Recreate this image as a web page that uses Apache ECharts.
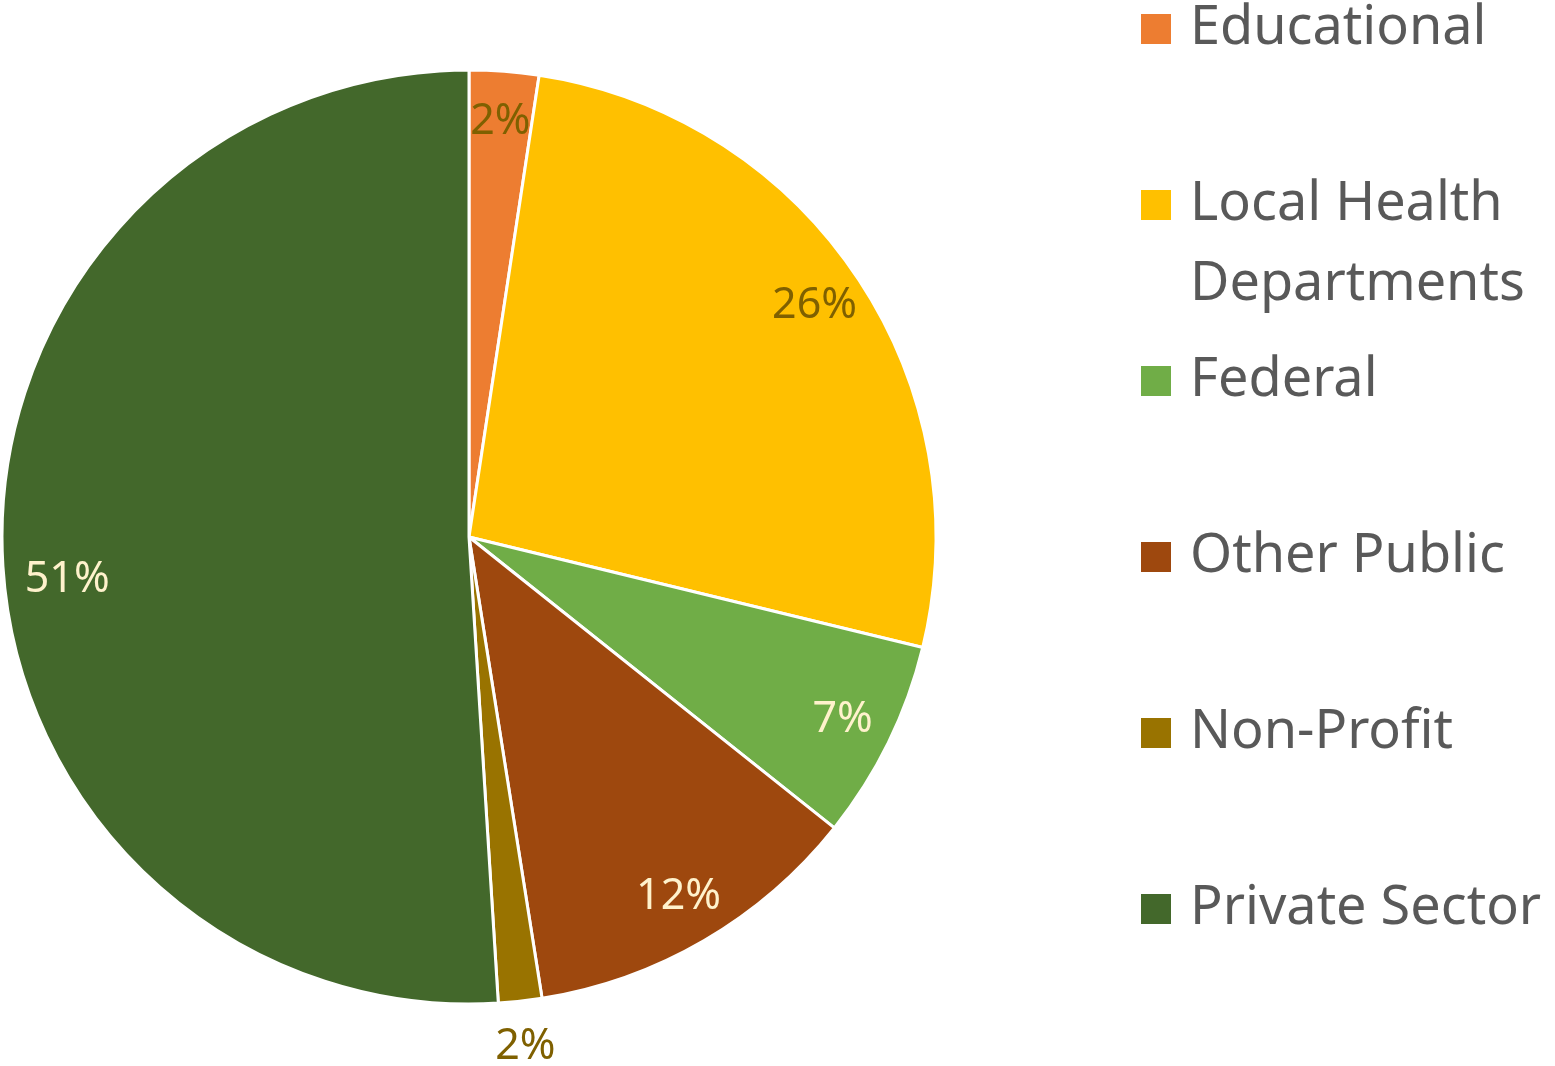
<!DOCTYPE html>
<html>
<head>
<meta charset="utf-8">
<title>Pie</title>
<script src="https://cdn.jsdelivr.net/npm/echarts@6/dist/echarts.min.js"></script>
<style>
  html, body { margin: 0; padding: 0; background: #fff; }
  #main { width: 1555px; height: 1066px; }
</style>
</head>
<body>
<div id="main"></div>
<script>
// 数据
var categories = ["Educational", "Local Health Departments", "Federal", "Other Public", "Non-Profit", "Private Sector"];
var shares = [2.4, 26.4, 6.9, 11.8, 1.5, 51.0];

(function() {
  var myChart = echarts.init(document.getElementById("main"));

  var colors = ["#ED7D31", "#FFC000", "#70AD47", "#9E480E", "#997300", "#43682B"];
  var labelColors = ["#7F6000", "#7F6000", "#FFF2CC", "#FFF2CC", "#7F6000", "#FFF2CC"];
  var font = "Noto Sans";
  // 图例中心位置
  var legendCenters = [29, 205, 381, 557, 733, 909];

  var legends = categories.map(function(name, i) {
    var twoLine = name === "Local Health Departments";
    var lh = 80;
    return {
      data: [name],
      orient: "vertical",
      left: 1139,
      top: twoLine ? legendCenters[i] - 120 : legendCenters[i] - lh / 2,
      padding: 0,
      icon: "rect",
      itemWidth: 32,
      itemHeight: 32,
      selectedMode: false,
      formatter: function(n) {
        // 第一行与图标对齐：前面加一个空行
        return n === "Local Health Departments" ? "\nLocal Health\nDepartments" : n;
      },
      textStyle: {
        color: "#595959",
        fontSize: 54,
        fontFamily: font,
        lineHeight: lh,
        padding: [0, 0, 0, 13]
      }
    };
  });

  var option = {
    animation: false,
    color: colors,
    legend: legends,
    series: [
      {
        name: "share",
        type: "pie",
        center: [469, 537],
        radius: [0, 467],
        startAngle: 90,
        clockwise: true,
        silent: true,
        itemStyle: { borderColor: "#fff", borderWidth: 3 },
        label: { show: false },
        labelLine: { show: false },
        data: categories.map(function(n, i) {
          return { name: n, value: shares[i] };
        })
      },
      {
        // 仅用于放置百分比标签
        name: "labels",
        type: "pie",
        center: [469, 537],
        radius: [376, 450],
        startAngle: 90,
        clockwise: true,
        silent: true,
        avoidLabelOverlap: false,
        itemStyle: { color: "rgba(0,0,0,0)", borderWidth: 0 },
        emphasis: { disabled: true },
        label: {
          show: true,
          position: "inside",
          fontSize: 43,
          fontFamily: font,
          formatter: function(p) {
            return Math.round(p.percent) + "%";
          }
        },
        labelLine: { show: false },
        labelLayout: function(p) {
          if (p.dataIndex === 4) {
            return { align: "center" };
          }
          if (p.dataIndex === 5) {
            // 最大扇区的标签略往下
            return { dx: 14, dy: 30 };
          }
        },
        data: categories.map(function(n, i) {
          var d = { name: n, value: shares[i], label: { color: labelColors[i] } };
          if (n === "Non-Profit") {
            d.label.position = "outside";
            d.label.distanceToLabelLine = 0;
            d.labelLine = { show: false, length: 63, length2: 0 };
          }
          return d;
        })
      }
    ]
  };

  myChart.setOption(option);
  window.addEventListener("resize", function() {
    myChart.resize();
  });
})();
</script>
</body>
</html>
